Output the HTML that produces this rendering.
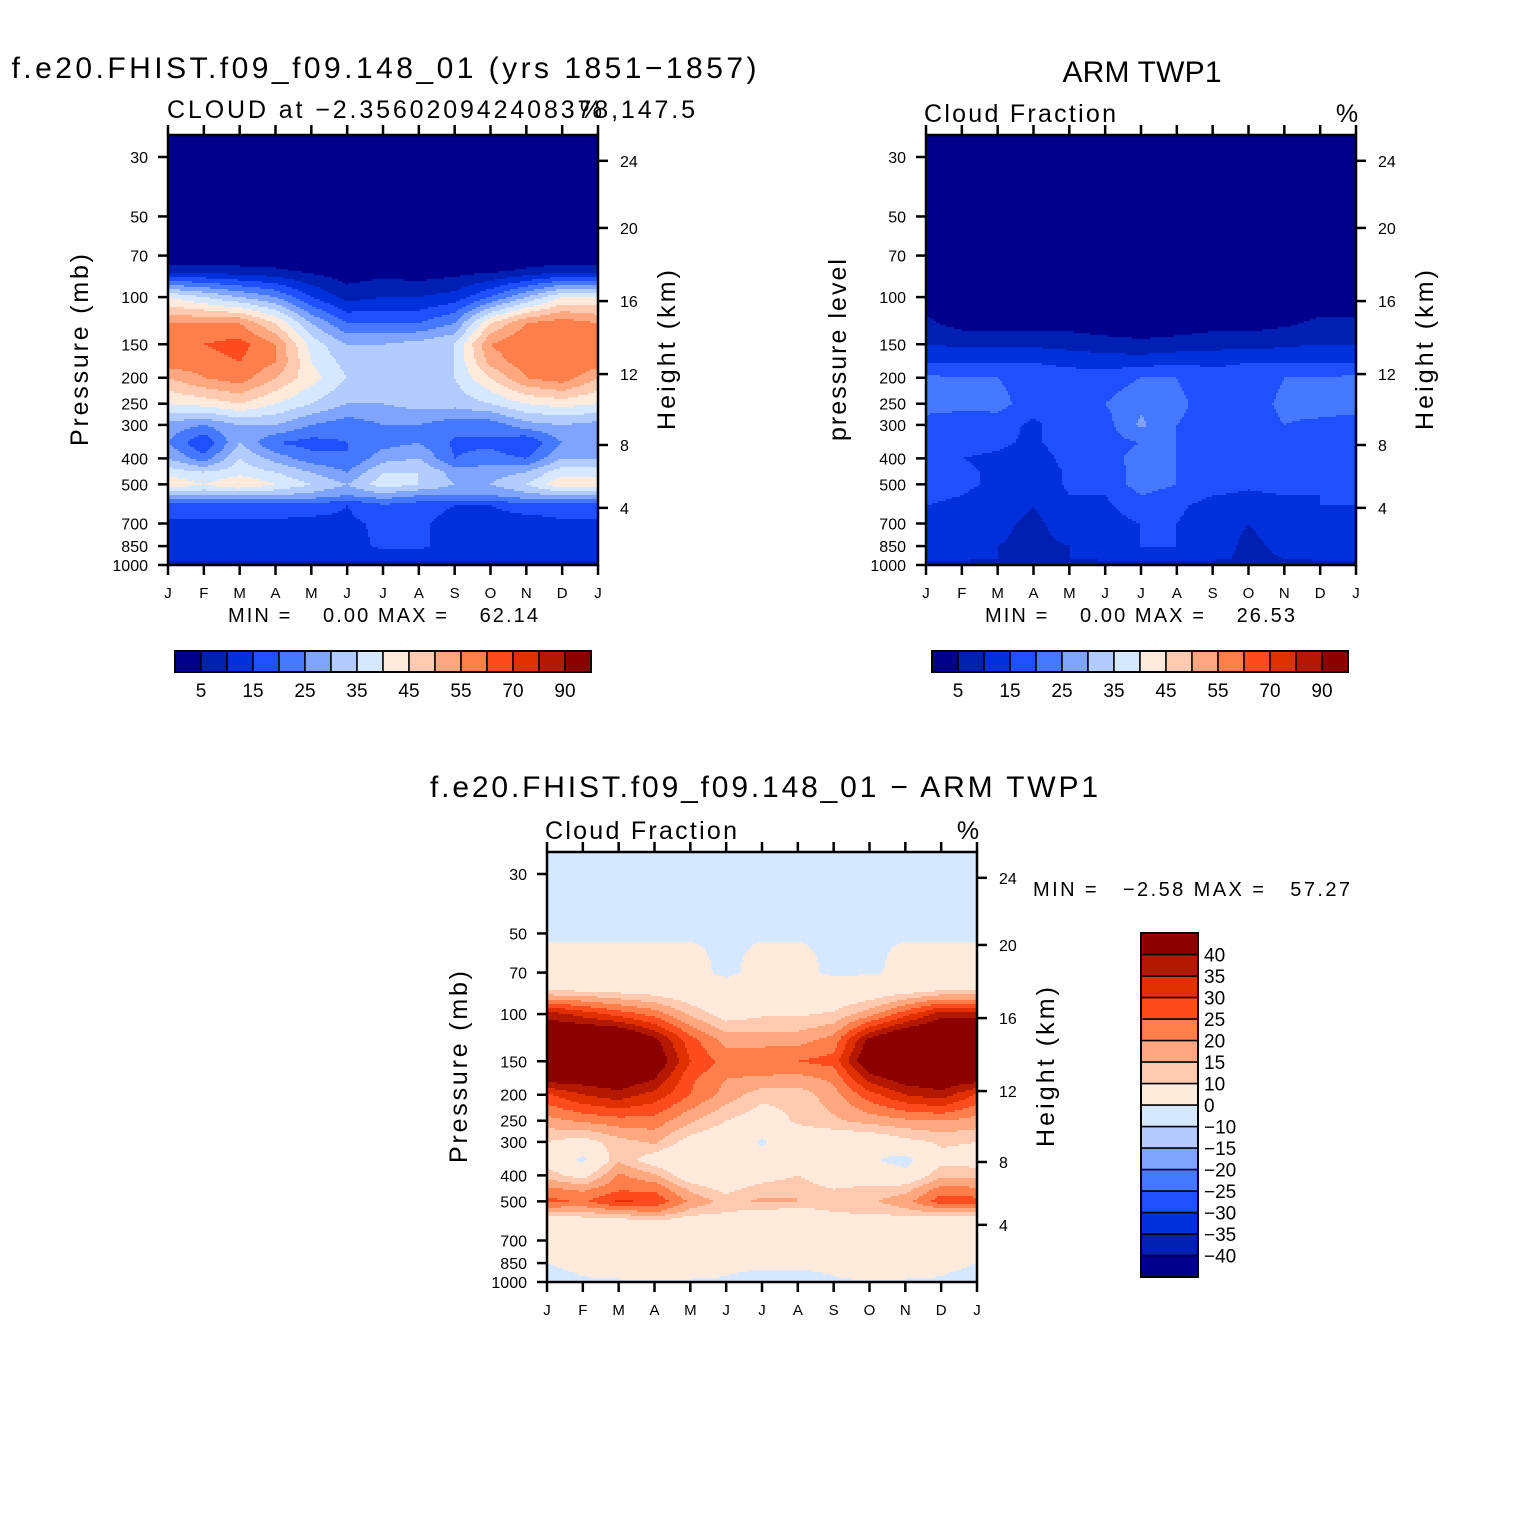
<!DOCTYPE html>
<html><head><meta charset="utf-8">
<style>
body{margin:0;background:#fff;}
svg{display:block;font-family:"Liberation Sans",sans-serif;}
</style></head>
<body>
<svg id="root" width="1524" height="1524" xmlns="http://www.w3.org/2000/svg">
<rect width="1524" height="1524" fill="#fff"/>
</svg>
<script>
// ---------- DATA ----------
const months = ["J","F","M","A","M","J","J","A","S","O","N","D","J"];
const pLevels = [30,50,70,80,100,125,150,175,200,250,300,350,400,450,500,550,600,700,850,950,1000];
const modelVals = [
[0,0,0,0,0,0,0,0,0,0,0,0,0],
[1,1,1,1,1,1,1,1,1,1,1,1,1],
[1,1,1,1,1,1,1,1,1,1,1,1,1],
[8,8,7,6,4,2,3,2,3,4,6,8,8],
[40,35,30,25,15,8,10,10,12,20,30,40,40],
[55,55,55,45,30,20,20,20,25,45,55,58,55],
[58,60,62,55,38,30,30,32,35,55,60,60,58],
[58,58,60,55,40,33,32,32,35,52,58,60,58],
[50,55,58,50,42,35,32,32,35,45,55,58,50],
[40,42,45,40,35,30,30,32,32,35,40,42,40],
[28,25,30,30,25,22,25,25,22,22,28,30,28],
[25,15,30,20,18,20,23,25,19,19,15,25,25],
[30,22,35,28,22,20,28,30,20,22,20,30,30],
[38,35,38,35,30,25,35,35,28,28,30,38,38],
[44,40,45,40,35,30,38,35,30,30,35,44,44],
[30,30,30,30,28,25,28,25,25,25,28,30,30],
[18,18,18,18,18,15,19,17,15,15,18,18,18],
[14,14,14,14,13,14,16,16,13,12,12,14,14],
[13,13,13,13,12,13,16,16,13,12,12,13,13],
[11,11,11,11,11,11,12,12,11,11,11,11,11],
[5,5,5,5,5,5,5,5,5,5,5,5,5]];
const obsVals = [
[0.5,0.5,0.5,0.5,0.5,0.5,0.5,0.5,0.5,0.5,0.5,0.5,0.5],
[1.2,1.2,1.2,1.2,1.2,1.2,1.2,1.2,1.2,1.2,1.2,1.2,1.2],
[0.2,0.2,0.2,0.2,0.2,1.5,0.2,0.2,1.5,1.5,0.2,0.2,0.2],
[1,1,1,1,1,1,1,1,1,1,1,1,1],
[2,2,2,2,1,1,1,1,1,2,2,2,2],
[6,3,3,3,3,2,2,2,3,3,4,6,6],
[10,9,9,9,8,7,6,7,8,8,9,10,10],
[15,15,15,15,14,13,13,14,14,15,15,15,15],
[21,20,20,17,17,17,20,20,17,17,20,20,21],
[22,21,22,17,19,20,24,21,18,18,21,22,22],
[18,18,17,14,18,18,26,20,18,18,20,19,18],
[18,17,16,14,18,18,20,20,18,18,18,17,18],
[17,15,14,12,17,18,22,20,18,17,17,16,17],
[17,16,14,11,16,17,22,20,18,16,17,16,17],
[17,16,14,11,16,17,22,20,18,16,17,16,17],
[16,15,13,10,15,15,20,18,15,14,15,15,16],
[15,14,13,10,14,14,18,16,13,12,14,15,15],
[13,13,11,9,12,13,15,15,12,10,12,13,13],
[13,12,10,9,10,12,15,15,12,9,11,12,13],
[12,11,10,9,10,11,13,13,11,9,10,11,12],
[6,6,6,6,6,6,6,6,6,6,6,6,6]];
const absLevels = [5,10,15,20,25,30,35,40,45,50,55,60,70,80,90];
const absLabels = ["5","15","25","35","45","55","70","90"];
const diffLevels = [-40,-35,-30,-25,-20,-15,-10,0,10,15,20,25,30,35,40];
const diffLabels = ["−40","−35","−30","−25","−20","−15","−10","0","10","15","20","25","30","35","40"];
const pTicks = [30,50,70,100,150,200,250,300,400,500,700,850,1000];
const kmTicks = [24,20,16,12,8,4];
const kmP = [31,55.2,103.5,193.8,356.5,612];
const colors = ["#00008c","#0020b4","#0030dc","#1e50ff","#4478ff","#7fa4ff","#b2ccff","#d6e8ff","#ffeadc","#ffcab0","#ffa880","#ff7f4c","#ff4c1e","#e03000","#b41800","#8c0000"];

// ---------- RENDER ----------
const NS="http://www.w3.org/2000/svg";
const root=document.getElementById('root');
function mk(tag,attrs,parent){const e=document.createElementNS(NS,tag);for(const k in attrs)e.setAttribute(k,attrs[k]);(parent||root).appendChild(e);return e;}
function txt(s,x,y,size,anchor,parent,rot,len){const t=mk('text',{x:x,y:y,'font-size':size,'text-anchor':anchor||'start',fill:'#000'},parent);if(rot)t.setAttribute('transform','rotate('+rot+' '+x+' '+y+')');if(len){t.setAttribute('textLength',len);t.setAttribute('lengthAdjust','spacing');}t.textContent=s;return t;}
const W=430,H=430,lpTop=1.395,lpBot=3;
function colorFor(v,levels){let i=0;while(i<levels.length&&v>=levels[i])i++;return colors[i];}
function interp(vals,m,lp){
  const lps=pLevels.map(p=>Math.log10(p));
  let j=0;while(j<lps.length-2&&lp>lps[j+1])j++;
  let ty=(lp-lps[j])/(lps[j+1]-lps[j]);ty=Math.max(0,Math.min(1,ty));
  let i=Math.min(11,Math.floor(m));const tx=m-i;
  const a=vals[j][i]*(1-tx)+vals[j][i+1]*tx, b=vals[j+1][i]*(1-tx)+vals[j+1][i+1]*tx;
  return a*(1-ty)+b*ty;
}
function panel(x0,y0,vals,levels,name,leftTitle,leftLen){
  const g=mk('g',{});
  
  
  const yOf=p=>y0+(Math.log10(p)-lpTop)/(lpBot-lpTop)*H;
  const xOf=m=>x0+m*W/12;
  const cell=2;
  const ncell=Math.ceil(W/cell);
  for(let py=0;py<H;py+=cell){
    const lp=lpTop+(py+cell/2)/H*(lpBot-lpTop);
    let runStart=0,runCol=null;
    for(let k=0;k<=ncell;k++){
      const px=Math.min(k*cell,W);
      let c=null;
      if(k<ncell){const m=Math.min(12,(px+cell/2)/W*12);c=colorFor(interp(vals,m,lp),levels);}
      if(c!==runCol){
        if(runCol){const r=mk('rect',{x:x0+runStart,y:y0+py,width:px-runStart+0.6,height:Math.min(cell,H-py)+0.6,fill:runCol},g);
          
          }
        runStart=px;runCol=c;
      }
    }
  }
  const fr=mk('rect',{x:x0,y:y0,width:W,height:H,fill:'none',stroke:'#000','stroke-width':2.5},g);
  
  
  months.forEach((mo,i)=>{const x=xOf(i);
    mk('line',{x1:x,y1:y0,x2:x,y2:y0-10,stroke:'#000','stroke-width':2.5},g);
    mk('line',{x1:x,y1:y0+H,x2:x,y2:y0+H+10,stroke:'#000','stroke-width':2.5},g);
    const t=txt(mo,x,y0+H+33,15,'middle',g);
    
    });
  pTicks.forEach(p=>{const y=yOf(p);
    mk('line',{x1:x0,y1:y,x2:x0-10,y2:y,stroke:'#000','stroke-width':2.5},g);
    const t=txt(String(p),x0-20,y+6,16,'end',g);
    
    });
  kmTicks.forEach((k,i)=>{const y=yOf(kmP[i]);
    mk('line',{x1:x0+W,y1:y,x2:x0+W+10,y2:y,stroke:'#000','stroke-width':2.5},g);
    const t=txt(String(k),x0+W+22,y+6,16,'start',g);
    
    });
  const lt=txt(leftTitle,x0-80,y0+215,25,'middle',g,-90,leftLen);
  
  
  const rt=txt('Height (km)',x0+W+77,y0+215,25,'middle',g,-90,160);
  
  
}
const diffVals=modelVals.map((r,j)=>r.map((v,i)=>v-obsVals[j][i]));
panel(168,135,modelVals,absLevels,'model-panel','Pressure (mb)',192);
panel(926,135,obsVals,absLevels,'obs-panel','pressure level',182);
panel(547,852,diffVals,diffLevels,'diff-panel','Pressure (mb)',192);

function hbar(x0,y0,name){
  const g=mk('g',{});
  
  
  colors.forEach((c,i)=>{const r=mk('rect',{x:x0+i*26,y:y0,width:26,height:21,fill:c,stroke:'#000','stroke-width':1.5},g);
    
    });
  mk('rect',{x:x0,y:y0,width:416,height:21,fill:'none',stroke:'#000','stroke-width':2},g);
  absLabels.forEach((l,i)=>{const t=txt(l,x0+(2*i+1)*26,y0+46,19,'middle',g);
    
    });
}
hbar(175,651,'model-colorbar');
hbar(932,651,'obs-colorbar');
(function(){
  const g=mk('g',{});
  
  
  const x0=1141,y0=933,h=21.5;
  colors.forEach((c,i)=>{const r=mk('rect',{x:x0,y:y0+(15-i)*h,width:57,height:h,fill:c,stroke:'#000','stroke-width':1.5},g);
    
    });
  mk('rect',{x:x0,y:y0,width:57,height:16*h,fill:'none',stroke:'#000','stroke-width':2},g);
  diffLabels.forEach((l,i)=>{const t=txt(l,1204,y0+(15-i)*h+7,19,'start',g);
    
    });
})();

function label(s,x,y,size,anchor,name,len){const t=txt(s,x,y,size,anchor,null,0,len);t.setAttribute('xml:space','preserve');t.style.whiteSpace='pre';return t;}
label('f.e20.FHIST.f09_f09.148_01 (yrs 1851−1857)',384,78,30,'middle','model-title',745);
label('CLOUD at −2.356020942408378,147.5',167,118,25,'start','model-subtitle',528);
label('%',591,118,25,'middle','model-units');
label('ARM TWP1',1142,82,30,'middle','obs-title',159);
label('Cloud Fraction',924,122,25,'start','obs-subtitle',192);
label('%',1347,122,25,'middle','obs-units');
label('f.e20.FHIST.f09_f09.148_01 − ARM TWP1',764,797,30,'middle','diff-title',668);
label('Cloud Fraction',545,839,25,'start','diff-subtitle',192);
label('%',968,839,25,'middle','diff-units');
label('MIN =    0.00 MAX =    62.14',228,622,20,'start','model-min-max',310);
label('MIN =    0.00 MAX =    26.53',985,622,20,'start','obs-min-max',310);
label('MIN =   −2.58 MAX =   57.27',1033,896,20,'start','diff-min-max',317);
</script>
</body></html>
